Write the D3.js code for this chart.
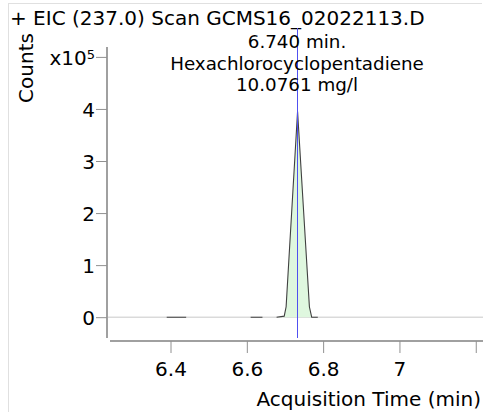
<!DOCTYPE html>
<html>
<head>
<meta charset="utf-8">
<script src="https://cdn.jsdelivr.net/npm/d3@7"></script>
<style>
  html, body { margin: 0; padding: 0; background: #fff; }
  svg { display: block; }
  text { font-family: "DejaVu Sans", Verdana, sans-serif; fill: #000; }
</style>
</head>
<body>
<svg id="chart" width="483" height="412"></svg>
<script>
// ---- data ----
const times  = [6.390, 6.441, 6.470, 6.610, 6.641, 6.660, 6.678, 6.698, 6.703, 6.733, 6.764, 6.770, 6.786];
const counts = [0,     0,     null,  0,     0,     null,  0,     2000,  20000, 395000, 20000, 0,    0];
const markerTimes = [6.7308];
const xTickValues = [6.4, 6.6, 6.8, 7.0, 7.2];
const xTickLabels = ["6.4", "6.6", "6.8", "7", ""];
const yTickValues = [0, 100000, 200000, 300000, 400000, 500000];
const yTickLabels = ["0", "1", "2", "3", "4", "x10^5"];
const titleText = "+ EIC (237.0) Scan GCMS16_02022113.D";
const annotation = ["6.740 min.", "Hexachlorocyclopentadiene", "10.0761 mg/l"];
const xTitle = "Acquisition Time (min)";
const yTitle = "Counts";

const svg = d3.select("#chart");
const W = 483, H = 412;
const FS = 20;

const x = d3.scaleLinear().domain([6.2414, 7.219]).range([110, 483]);
const y = d3.scaleLinear().domain([-40000, 519000]).range([338, 47]);

// frame
svg.append("line").attr("x1", 8.5).attr("x2", 8.5).attr("y1", 3).attr("y2", H)
  .attr("stroke", "#e0e0e0").attr("stroke-width", 1);
svg.append("line").attr("x1", 8).attr("x2", 482).attr("y1", 3.5).attr("y2", 3.5)
  .attr("stroke", "#e0e0e0").attr("stroke-width", 1);

// title
svg.append("text").attr("x", 10).attr("y", 25).attr("font-size", FS).text(titleText);

// zero line
svg.append("line").attr("x1", 107).attr("x2", W).attr("y1", y(0)).attr("y2", y(0))
  .attr("stroke", "#c8c8c8").attr("stroke-width", 1);

const pts = times.map((t, i) => ({t, c: counts[i]}));

// area fill
const area = d3.area().defined(d => d.c !== null)
  .x(d => x(d.t)).y0(y(0)).y1(d => y(d.c));
svg.append("path").datum(pts).attr("d", area).attr("fill", "#dff7df");

// line
const line = d3.line().defined(d => d.c !== null).x(d => x(d.t)).y(d => y(d.c));
svg.append("path").datum(pts).attr("d", line).attr("fill", "none")
  .attr("stroke", "#404040").attr("stroke-width", 1.1);

// marker line
svg.selectAll(".marker").data(markerTimes).enter().append("line")
  .attr("x1", d => Math.round(x(d)) + 0.5).attr("x2", d => Math.round(x(d)) + 0.5)
  .attr("y1", 28).attr("y2", 338).attr("stroke", "#5050f0").attr("stroke-width", 1);

// y axis
const yAxis = d3.axisLeft(y).tickValues(yTickValues).tickSize(11).tickFormat(() => "");
const gy = svg.append("g").attr("transform", "translate(107,0)").call(yAxis);
gy.select(".domain").attr("stroke", "#a0a0a0").attr("stroke-width", 2).attr("d", "M0,47V338");
gy.selectAll(".tick line").attr("stroke", "#909090");
gy.selectAll(".tick").each(function(d, i) {
  const lab = yTickLabels[i];
  const tx = d3.select(this).append("text").attr("x", -12).attr("dy", "0.36em")
    .attr("text-anchor", "end").attr("font-size", FS).attr("fill", "#000");
  if (lab.includes("^")) {
    const [base, sup] = lab.split("^");
    tx.append("tspan").text(base);
    tx.append("tspan").attr("dy", "-0.45em").attr("font-size", 13).text(sup);
  } else {
    tx.text(lab);
  }
});

// x axis
const xAxis = d3.axisBottom(x).tickValues(xTickValues).tickSize(12)
  .tickFormat((d, i) => xTickLabels[i]);
const gx = svg.append("g").attr("transform", "translate(0,341)").call(xAxis);
gx.select(".domain").attr("stroke", "#a0a0a0").attr("stroke-width", 2).attr("d", "M110,0H483");
gx.selectAll(".tick line").attr("stroke", "#909090");
gx.selectAll(".tick text").attr("font-size", FS).attr("font-family", "DejaVu Sans")
  .attr("fill", "#000").attr("y", 21).attr("dy", "0.71em");

// axis titles
svg.append("text").attr("x", 481).attr("y", 406).attr("text-anchor", "end")
  .attr("font-size", FS).text(xTitle);
svg.append("text").attr("transform", "translate(33,68) rotate(-90)")
  .attr("text-anchor", "middle").attr("font-size", FS).text(yTitle);

// annotation
svg.selectAll(".ann").data(annotation).enter().append("text")
  .attr("x", 297).attr("y", (d, i) => 48 + i * 21.5).attr("text-anchor", "middle")
  .attr("font-size", 18.3).text(d => d);
</script>
</body>
</html>
